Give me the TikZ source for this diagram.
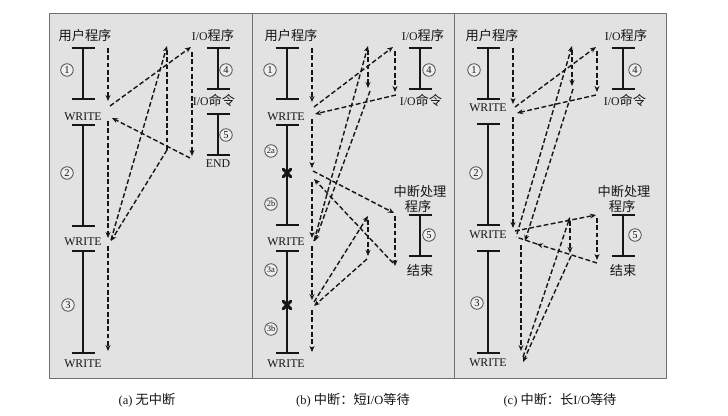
\documentclass[tikz,border=0pt]{standalone}
\usepackage{fontspec}
\setmainfont{Liberation Serif}
\newfontfamily\cjk{Noto Sans CJK SC}
\usetikzlibrary{arrows.meta}
\definecolor{panelgray}{HTML}{E2E2E2}
\definecolor{bordergray}{HTML}{707070}
\definecolor{ink}{HTML}{161616}
\newcommand\zh[1]{{\cjk\fontsize{13.2}{14}\selectfont #1}}
\newcommand\ibar[3]{\draw[barline] ({#1-11.5},#2) -- ({#1+11.5},#2) (#1,#2) -- (#1,#3) ({#1-11.5},#3) -- ({#1+11.5},#3);}
\newcommand\bigx[2]{\draw[xmark] ({#1-3.8},{#2-3.8}) -- ({#1+3.8},{#2+3.8}) ({#1-3.8},{#2+3.8}) -- ({#1+3.8},{#2-3.8});}
\tikzset{
  barline/.style={line width=1.1pt, draw=ink},
  xmark/.style={line width=3pt, draw=ink, line cap=round},
  flowline/.style={line width=1.4pt, draw=ink, dash pattern=on 4.8pt off 2.5pt},
  flow/.style={flowline, -{Stealth[length=6pt,width=5pt]}},
  lbl/.style={inner sep=0pt, text=ink, font=\fontsize{11.8}{12}\selectfont},
  num/.style={circle, draw=ink!75, line width=0.8pt, fill=white!45!panelgray, inner sep=0pt, minimum size=12.5pt, text=ink, font=\fontsize{10.5}{10.5}\selectfont},
  numsm/.style={num, font=\fontsize{8.5}{8.5}\selectfont},
  captext/.style={inner sep=0pt, text=ink, font=\fontsize{12.5}{13}\selectfont}
}
\begin{document}
\begin{tikzpicture}[x=1pt,y=-1pt]
\useasboundingbox (0,0) rectangle (728,415);
\fill[white] (0,0) rectangle (728,415);
% panels
\filldraw[fill=panelgray, draw=bordergray, line width=0.9pt] (49,13) rectangle (252,378);
\filldraw[fill=panelgray, draw=bordergray, line width=0.9pt] (252,13) rectangle (454,378);
\filldraw[fill=panelgray, draw=bordergray, line width=0.9pt] (454,13) rectangle (666,378);

% ================= panel (a) =================
\node[lbl] (a-user) at (85,35) {\zh{用户程序}};
\ibar{83}{48}{99}
\ibar{83}{125}{226}
\ibar{83}{251}{353}
\node[lbl] (a-w1) at (83,117) {WRITE};
\node[lbl] (a-w2) at (83,242) {WRITE};
\node[lbl] (a-w3) at (83,364) {WRITE};
\node[num] (a-n1) at (67,70) {1};
\node[num] (a-n2) at (67,173) {2};
\node[num] (a-n3) at (68,305) {3};
\node[lbl] (a-io) at (213,35) {I/O\zh{程序}};
\ibar{218}{48}{89}
\node[num] (a-n4) at (226,70) {4};
\node[lbl] (a-cmd) at (214,100) {I/O\zh{命令}};
\ibar{218}{114}{155}
\node[num] (a-n5) at (226,135) {5};
\node[lbl] (a-end) at (218,164) {END};
\coordinate (a0) at (108,48);
\coordinate (a1) at (108,101);
\coordinate (a2) at (110,106);
\coordinate (a3) at (191,47);
\coordinate (a4) at (192,52);
\coordinate (a5) at (192,156);
\coordinate (a6) at (190,158);
\coordinate (a7) at (112,118);
\coordinate (a8) at (108,121);
\coordinate (a9) at (108,238);
\coordinate (a10) at (111,240);
\coordinate (a11) at (167,46);
\coordinate (a12) at (167,50);
\coordinate (a13) at (167,150);
\coordinate (a14) at (111,241);
\coordinate (a15) at (108,246);
\coordinate (a16) at (108,351);
\draw[flow] (a0) -- (a1);
\draw[flow] (a2) -- (a3);
\draw[flow] (a4) -- (a5);
\draw[flow] (a6) -- (a7);
\draw[flow] (a8) -- (a9);
\draw[flow] (a10) -- (a11);
\draw[flowline] (a12) -- (a13);
\draw[flow] (a13) -- (a14);
\draw[flow] (a15) -- (a16);

% ================= panel (b) =================
\node[lbl] (b-user) at (291,35) {\zh{用户程序}};
\ibar{287}{48}{99}
\ibar{287}{125}{225}
\ibar{287}{251}{353}
\bigx{287}{173}
\bigx{287}{305}
\node[lbl] (b-w1) at (286,117) {WRITE};
\node[lbl] (b-w2) at (286,242) {WRITE};
\node[lbl] (b-w3) at (286,364) {WRITE};
\node[num] (b-n1) at (270,70) {1};
\node[numsm] (b-n2a) at (271,151) {2a};
\node[numsm] (b-n2b) at (271,204) {2b};
\node[numsm] (b-n3a) at (271,270) {3a};
\node[numsm] (b-n3b) at (271,329) {3b};
\node[lbl] (b-io) at (423,35) {I/O\zh{程序}};
\ibar{420}{48}{89}
\node[num] (b-n4) at (429,70) {4};
\node[lbl] (b-cmd) at (421,100) {I/O\zh{命令}};
\node[lbl] (b-ih1) at (420,192) {\zh{中断处理}};
\node[lbl] (b-ih2) at (418,206) {\zh{程序}};
\ibar{420}{215}{256}
\node[num] (b-n5) at (429,235) {5};
\node[lbl] (b-end) at (420,270) {\zh{结束}};
\coordinate (b0) at (312,48);
\coordinate (b1) at (312,102);
\coordinate (b2) at (314,107);
\coordinate (b3) at (393,47);
\coordinate (b4) at (395,51);
\coordinate (b5) at (395,92);
\coordinate (b6) at (396,95);
\coordinate (b7) at (315,114);
\coordinate (b8) at (312,119);
\coordinate (b9) at (312,168);
\coordinate (b10) at (313,171);
\coordinate (b11) at (394,213);
\coordinate (b12) at (395,216);
\coordinate (b13) at (395,266);
\coordinate (b14) at (393,263);
\coordinate (b15) at (314,179);
\coordinate (b16) at (312,182);
\coordinate (b17) at (312,238);
\coordinate (b18) at (314,241);
\coordinate (b19) at (368,46);
\coordinate (b20) at (368,50);
\coordinate (b21) at (368,88);
\coordinate (b22) at (370,91);
\coordinate (b23) at (315,241);
\coordinate (b24) at (312,246);
\coordinate (b25) at (312,300);
\coordinate (b26) at (314,302);
\coordinate (b27) at (368,216);
\coordinate (b28) at (368,220);
\coordinate (b29) at (368,256);
\coordinate (b30) at (367,259);
\coordinate (b31) at (314,306);
\coordinate (b32) at (312,310);
\coordinate (b33) at (312,352);
\draw[flow] (b0) -- (b1);
\draw[flow] (b2) -- (b3);
\draw[flow] (b4) -- (b5);
\draw[flow] (b6) -- (b7);
\draw[flow] (b8) -- (b9);
\draw[flow] (b10) -- (b11);
\draw[flow] (b12) -- (b13);
\draw[flow] (b14) -- (b15);
\draw[flow] (b16) -- (b17);
\draw[flow] (b18) -- (b19);
\draw[flow] (b20) -- (b21);
\draw[flow] (b22) -- (b23);
\draw[flow] (b24) -- (b25);
\draw[flow] (b26) -- (b27);
\draw[flow] (b28) -- (b29);
\draw[flow] (b30) -- (b31);
\draw[flow] (b32) -- (b33);

% ================= panel (c) =================
\node[lbl] (c-user) at (492,35) {\zh{用户程序}};
\ibar{488}{48}{99}
\ibar{488}{124}{225}
\ibar{488}{251}{353}
\node[lbl] (c-w1) at (488,108) {WRITE};
\node[lbl] (c-w2) at (488,235) {WRITE};
\node[lbl] (c-w3) at (488,363) {WRITE};
\node[num] (c-n1) at (474,70) {1};
\node[num] (c-n2) at (476,173) {2};
\node[num] (c-n3) at (477,303) {3};
\node[lbl] (c-io) at (626,35) {I/O\zh{程序}};
\ibar{623}{48}{89}
\node[num] (c-n4) at (635,70) {4};
\node[lbl] (c-cmd) at (625,100) {I/O\zh{命令}};
\node[lbl] (c-ih1) at (624,192) {\zh{中断处理}};
\node[lbl] (c-ih2) at (622,206) {\zh{程序}};
\ibar{623}{215}{256}
\node[num] (c-n5) at (635,235) {5};
\node[lbl] (c-end) at (623,270) {\zh{结束}};
\coordinate (c0) at (513,48);
\coordinate (c1) at (513,104);
\coordinate (c2) at (515,107);
\coordinate (c3) at (596,47);
\coordinate (c4) at (597,51);
\coordinate (c5) at (597,92);
\coordinate (c6) at (596,95);
\coordinate (c7) at (517,113);
\coordinate (c8) at (513,117);
\coordinate (c9) at (513,228);
\coordinate (c10) at (515,231);
\coordinate (c11) at (596,215);
\coordinate (c12) at (597,218);
\coordinate (c13) at (597,260);
\coordinate (c14) at (597,263);
\coordinate (c15) at (537,244);
\coordinate (c15b) at (516,237);
\coordinate (c16) at (517,234);
\coordinate (c17) at (572,46);
\coordinate (c18) at (572,50);
\coordinate (c19) at (572,86);
\coordinate (c20) at (573,89);
\coordinate (c21) at (525,241);
\coordinate (c22) at (521,245);
\coordinate (c23) at (521,351);
\coordinate (c24) at (523,357);
\coordinate (c25) at (570,217);
\coordinate (c26) at (570,221);
\coordinate (c27) at (570,253);
\coordinate (c28) at (571,256);
\coordinate (c29) at (523,362);
\draw[flow] (c0) -- (c1);
\draw[flow] (c2) -- (c3);
\draw[flow] (c4) -- (c5);
\draw[flow] (c6) -- (c7);
\draw[flow] (c8) -- (c9);
\draw[flow] (c10) -- (c11);
\draw[flow] (c12) -- (c13);
\draw[flow] (c14) -- (c15);
\draw[flowline] (c15) -- (c15b);
\draw[flow] (c16) -- (c17);
\draw[flow] (c18) -- (c19);
\draw[flow] (c20) -- (c21);
\draw[flow] (c22) -- (c23);
\draw[flow] (c24) -- (c25);
\draw[flow] (c26) -- (c27);
\draw[flow] (c28) -- (c29);

% ================= captions =================
\node[captext] (capa) at (147,400) {(a) \zh{无中断}};
\node[captext] (capb) at (353,400) {(b) \zh{中断：短}I/O\zh{等待}};
\node[captext] (capc) at (560,400) {(c) \zh{中断：长}I/O\zh{等待}};
\end{tikzpicture}
\end{document}
